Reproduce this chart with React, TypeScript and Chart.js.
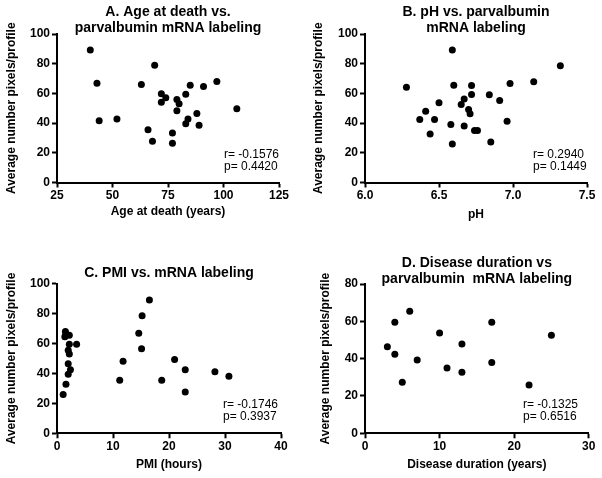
import React, { useEffect, useRef } from "react";
import { Chart, registerables } from "chart.js";

Chart.register(...registerables);

// ---- Data ----
const ageAtDeath = [40, 43, 44, 52, 63, 69, 66, 68, 72, 72, 74, 79, 80, 79, 77, 77, 83, 85, 83, 84, 88, 89, 91, 97, 106];
const ageLabeling = [89.3, 66.9, 41.6, 42.7, 66, 79, 35.6, 27.7, 59.7, 54.1, 57, 55.9, 53, 48.3, 33.3, 26.4, 59.5, 65.5, 39.6, 42.7, 46.5, 38.5, 64.7, 68, 49.7];

const phValues = [6.28, 6.59, 6.6, 6.37, 6.41, 6.44, 6.47, 6.5, 6.58, 6.59, 6.67, 6.65, 6.67, 6.7, 6.71, 6.72, 6.72, 6.74, 6.76, 6.84, 6.85, 6.91, 6.96, 6.98, 7.14, 7.32];
const phLabeling = [64.2, 89.3, 65.5, 42.5, 47.9, 32.7, 42.5, 53.7, 39.1, 25.9, 56.2, 52.6, 38, 49.2, 46.3, 59.3, 65.3, 35.1, 35.1, 59.1, 27.3, 55.3, 41.2, 66.7, 67.8, 78.7];

const pmiHours = [1.5, 1.6, 1.4, 2.2, 2.2, 3.5, 2.0, 2.2, 2.0, 2.4, 2.0, 1.6, 1.1, 11.2, 11.8, 14.6, 15.2, 15.1, 16.5, 18.7, 21.0, 22.9, 22.9, 28.2, 30.7];
const pmiLabeling = [68, 66, 64.5, 65.5, 59.5, 59.5, 55.5, 53, 46.5, 42.5, 39.5, 32.8, 26, 35.4, 48.1, 66.8, 78.6, 56.6, 89.1, 35.4, 49.4, 42.5, 27.6, 41.2, 38.1];

const diseaseDuration = [3, 4, 4, 5, 6, 7, 10, 11, 13, 13, 17, 17, 22, 25];
const diseaseLabeling = [46.4, 59.5, 42.3, 27.3, 65.4, 39.3, 53.8, 35, 47.9, 32.7, 59.5, 37.9, 25.9, 52.5];

const titlesA = ["A. Age at death vs.", "parvalbumin mRNA labeling"];
const titlesB = ["B. pH vs. parvalbumin", "mRNA labeling"];
const titlesC = ["C. PMI vs. mRNA labeling"];
const titlesD = ["D. Disease duration vs", "parvalbumin  mRNA labeling"];

const statsA = ["r= -0.1576", "p= 0.4420"];
const statsB = ["r= 0.2940", "p= 0.1449"];
const statsC = ["r= -0.1746", "p= 0.3937"];
const statsD = ["r= -0.1325", "p= 0.6516"];

const yAxisTitle = "Average number pixels/profile";
const FONT = "'Liberation Sans', Arial, Helvetica, sans-serif";

type PanelProps = {
  left: number;
  top: number;
  width: number;
  height: number;
  xs: number[];
  ys: number[];
  xMin: number;
  xMax: number;
  xStep: number;
  xDecimals: number;
  yMax: number;
  title: string[];
  xTitle: string;
  stats: string[];
  area: { l: number; r: number; t: number; b: number };
  titleTop: number;
  yTitleX: number;
  xTitleY: number;
  statsX: number;
};

function Panel(p: PanelProps) {
  const ref = useRef<HTMLCanvasElement | null>(null);
  useEffect(() => {
    const canvas = ref.current;
    if (!canvas) return;
    const lineH = 16;
    const titleH = p.area.t;
    const padTop = p.titleTop - lineH / 2;
    const padBottom = titleH - padTop - lineH * p.title.length;
    const statsPlugin = {
      id: "stats",
      afterDraw(chart: any) {
        const { ctx, chartArea } = chart;
        ctx.save();
        ctx.fillStyle = "#000";
        ctx.font = `12px ${FONT}`;
        ctx.textAlign = "left";
        ctx.textBaseline = "alphabetic";
        ctx.fillText(p.stats[0], p.statsX, chartArea.bottom - 25);
        ctx.fillText(p.stats[1], p.statsX, chartArea.bottom - 13);
        ctx.restore();
      },
    };
    const chart = new Chart(canvas, {
      type: "scatter",
      data: {
        datasets: [
          {
            data: p.xs.map((x, i) => ({ x, y: p.ys[i] })),
            backgroundColor: "#000",
            borderWidth: 0,
            pointRadius: 3.5,
          },
        ],
      },
      options: {
        responsive: false,
        animation: false,
        devicePixelRatio: 1,
        layout: { padding: { left: 0, right: p.width - p.area.r, top: 0, bottom: 0 } },
        plugins: {
          legend: { display: false },
          tooltip: { enabled: false },
          title: {
            display: true,
            text: p.title,
            fullSize: false,
            color: "#000",
            font: { family: FONT, size: 14, weight: "bold", lineHeight: lineH / 14 },
            padding: { top: padTop, bottom: padBottom },
          },
        },
        scales: {
          x: {
            type: "linear",
            min: p.xMin,
            max: p.xMax,
            afterFit: (s: any) => {
              s.height = p.height - p.area.b;
            },
            ticks: {
              stepSize: p.xStep,
              color: "#000",
              padding: 1,
              font: { family: FONT, size: 12, weight: "bold" },
              callback: (v: any) => Number(v).toFixed(p.xDecimals),
            },
            grid: { drawOnChartArea: false, tickLength: 5, tickWidth: 2, tickColor: "#000" },
            border: { color: "#000", width: 2 },
            title: {
              display: true,
              text: p.xTitle,
              color: "#000",
              font: { family: FONT, size: 12, weight: "bold" },
              padding: { top: 0, bottom: p.height - p.xTitleY - 7.2 },
            },
          },
          y: {
            type: "linear",
            min: 0,
            max: p.yMax,
            afterFit: (s: any) => {
              s.width = p.area.l;
            },
            ticks: {
              stepSize: 20,
              color: "#000",
              padding: 2,
              font: { family: FONT, size: 12, weight: "bold" },
            },
            grid: { drawOnChartArea: false, tickLength: 5, tickWidth: 2, tickColor: "#000" },
            border: { color: "#000", width: 2 },
            title: {
              display: true,
              text: yAxisTitle,
              color: "#000",
              font: { family: FONT, size: 12, weight: "bold" },
              padding: { top: p.yTitleX - 7.2, bottom: 0 },
            },
          },
        },
      },
      plugins: [statsPlugin],
    });
    return () => chart.destroy();
  }, []);
  return (
    <div style={{ position: "absolute", left: p.left, top: p.top, width: p.width, height: p.height }}>
      <canvas ref={ref} width={p.width} height={p.height} style={{ display: "block" }} />
    </div>
  );
}

export default function App() {
  return (
    <div style={{ position: "fixed", left: 0, top: 0, width: 602, height: 478, background: "#fff", overflow: "hidden" }}>
      <Panel
        left={0} top={0} width={300} height={239}
        xs={ageAtDeath} ys={ageLabeling}
        xMin={25} xMax={125} xStep={25} xDecimals={0} yMax={100}
        title={titlesA} xTitle="Age at death (years)" stats={statsA}
        area={{ l: 57, r: 279, t: 34, b: 182.5 }}
        titleTop={12.3} yTitleX={12} xTitleY={212} statsX={224}
      />
      <Panel
        left={300} top={0} width={302} height={239}
        xs={phValues} ys={phLabeling}
        xMin={6} xMax={7.5} xStep={0.5} xDecimals={1} yMax={100}
        title={titlesB} xTitle="pH" stats={statsB}
        area={{ l: 65, r: 287, t: 34, b: 182.5 }}
        titleTop={12.3} yTitleX={18.3} xTitleY={215} statsX={233}
      />
      <Panel
        left={0} top={239} width={300} height={239}
        xs={pmiHours} ys={pmiLabeling}
        xMin={0} xMax={40} xStep={10} xDecimals={0} yMax={100}
        title={titlesC} xTitle="PMI (hours)" stats={statsC}
        area={{ l: 57, r: 281, t: 44.7, b: 194.3 }}
        titleTop={34.5} yTitleX={11.7} xTitleY={225.5} statsX={223}
      />
      <Panel
        left={300} top={239} width={302} height={239}
        xs={diseaseDuration} ys={diseaseLabeling}
        xMin={0} xMax={30} xStep={10} xDecimals={0} yMax={80}
        title={titlesD} xTitle="Disease duration (years)" stats={statsD}
        area={{ l: 65, r: 288.7, t: 45, b: 194.3 }}
        titleTop={24.3} yTitleX={26} xTitleY={226} statsX={223}
      />
    </div>
  );
}
